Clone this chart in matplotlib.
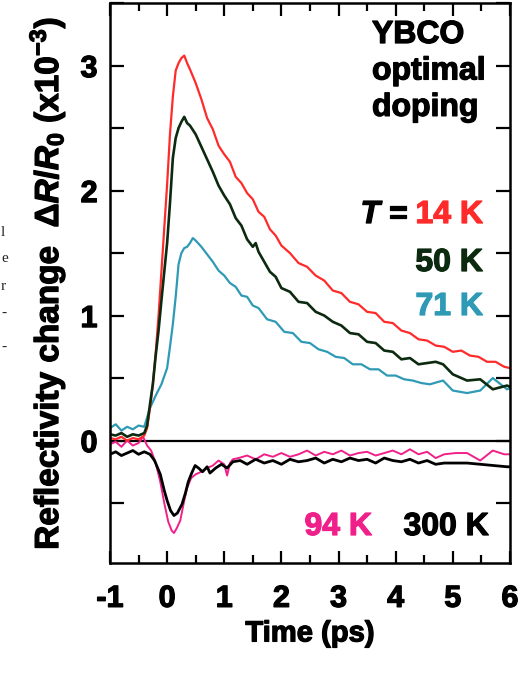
import matplotlib.pyplot as plt
import matplotlib.patheffects as pe
from matplotlib.ticker import MultipleLocator

plt.rcParams['font.family'] = 'Liberation Sans'
plt.rcParams['font.weight'] = 'bold'
plt.rcParams['axes.unicode_minus'] = False
plt.rcParams['mathtext.fontset'] = 'custom'
plt.rcParams['mathtext.rm'] = 'Liberation Sans:bold'
plt.rcParams['mathtext.it'] = 'Liberation Sans:bold:italic'
plt.rcParams['mathtext.bf'] = 'Liberation Sans:bold'

# values (time in ps, dR/R0 in units of 1e-3)
t_14k = [-1.0, -0.9, -0.8, -0.7, -0.6, -0.5, -0.4, -0.35, -0.3, -0.25, -0.2, -0.15,
         -0.1, -0.05, 0.0, 0.05, 0.1, 0.15, 0.2, 0.25, 0.3, 0.35, 0.4, 0.5, 0.6, 0.7,
         0.8, 0.9, 1.0, 1.1, 1.2, 1.3, 1.4, 1.5, 1.6, 1.7, 1.8, 1.9, 2.0, 2.15, 2.3,
         2.45, 2.6, 2.75, 2.9, 3.05, 3.2, 3.35, 3.5, 3.65, 3.8, 3.95, 4.1, 4.25, 4.4,
         4.55, 4.7, 4.85, 5.0, 5.15, 5.3, 5.45, 5.6, 5.75, 5.9, 6.0]
v_14k = [0.02, 0.01, 0.03, 0.00, 0.02, 0.01, 0.04, 0.10, 0.26, 0.45, 0.70, 1.00,
         1.35, 1.70, 2.05, 2.45, 2.75, 2.96, 3.02, 3.06, 3.08, 3.02, 2.97, 2.86, 2.73, 2.58,
         2.49, 2.36, 2.29, 2.23, 2.11, 2.06, 1.98, 1.93, 1.83, 1.79, 1.69, 1.64, 1.56, 1.50, 1.42,
         1.39, 1.32, 1.28, 1.20, 1.18, 1.11, 1.09, 1.03, 1.02, 0.95, 0.94, 0.88, 0.86, 0.81,
         0.80, 0.76, 0.75, 0.71, 0.72, 0.68, 0.67, 0.63, 0.63, 0.59, 0.58]

t_50k = [-1.0, -0.9, -0.8, -0.7, -0.6, -0.5, -0.4, -0.35, -0.3, -0.25, -0.2, -0.15,
         -0.1, -0.05, 0.0, 0.05, 0.1, 0.15, 0.2, 0.25, 0.3, 0.35, 0.4, 0.5, 0.6, 0.7,
         0.8, 0.9, 1.0, 1.1, 1.2, 1.3, 1.4, 1.5, 1.55, 1.6, 1.7, 1.8, 1.9, 2.0, 2.15,
         2.3, 2.45, 2.6, 2.75, 2.9, 3.05, 3.2, 3.35, 3.5, 3.65, 3.8, 3.95, 4.1, 4.25,
         4.4, 4.55, 4.7, 4.83, 5.0, 5.25, 5.48, 5.7, 5.95, 6.0]
v_50k = [0.05, 0.04, 0.06, 0.03, 0.05, 0.04, 0.06, 0.12, 0.29, 0.45, 0.68, 0.88,
         1.12, 1.35, 1.58, 1.90, 2.26, 2.42, 2.50, 2.55, 2.59, 2.54, 2.52, 2.45, 2.35, 2.25,
         2.15, 2.04, 1.96, 1.89, 1.78, 1.72, 1.61, 1.55, 1.58, 1.51, 1.43, 1.35, 1.31, 1.22, 1.19,
         1.11, 1.10, 1.03, 1.00, 0.95, 0.92, 0.86, 0.85, 0.79, 0.78, 0.72, 0.71, 0.65, 0.66,
         0.61, 0.62, 0.63, 0.61, 0.53, 0.48, 0.49, 0.41, 0.44, 0.43]

t_71k = [-1.0, -0.9, -0.8, -0.7, -0.6, -0.5, -0.4, -0.3, -0.2, -0.1, 0.0, 0.05,
         0.1, 0.15, 0.2, 0.25, 0.3, 0.35, 0.4, 0.45, 0.5, 0.6, 0.7, 0.8, 0.9, 1.0,
         1.1, 1.2, 1.3, 1.4, 1.5, 1.6, 1.75, 1.9, 2.05, 2.2, 2.35, 2.5, 2.65, 2.8,
         2.95, 3.1, 3.25, 3.4, 3.55, 3.7, 3.85, 4.0, 4.15, 4.3, 4.45, 4.6, 4.75, 4.83,
         5.0, 5.25, 5.48, 5.7, 5.95, 6.0]
v_71k = [0.10, 0.13, 0.08, 0.11, 0.09, 0.12, 0.11, 0.26, 0.36, 0.45, 0.58, 0.75,
         0.93, 1.15, 1.41, 1.50, 1.54, 1.55, 1.58, 1.62, 1.60, 1.55, 1.49, 1.43, 1.36, 1.32,
         1.26, 1.23, 1.16, 1.15, 1.08, 1.06, 0.97, 0.95, 0.87, 0.86, 0.79, 0.78, 0.73, 0.71,
         0.67, 0.66, 0.61, 0.61, 0.57, 0.57, 0.52, 0.52, 0.49, 0.48, 0.46, 0.45, 0.47, 0.48,
         0.40, 0.38, 0.40, 0.50, 0.41, 0.42]

t_94k = [-1.0, -0.9, -0.8, -0.7, -0.6, -0.5, -0.42, -0.35, -0.28, -0.2, -0.12, -0.05,
         0.02, 0.08, 0.12, 0.17, 0.23, 0.3, 0.35, 0.42, 0.5, 0.6, 0.7, 0.8, 0.9, 1.0,
         1.05, 1.1, 1.15, 1.25, 1.4, 1.55, 1.7, 1.85, 2.0, 2.15, 2.3, 2.45, 2.6, 2.75,
         2.9, 3.05, 3.2, 3.35, 3.5, 3.65, 3.8, 3.95, 4.1, 4.25, 4.4, 4.55, 4.7, 4.85,
         5.05, 5.25, 5.48, 5.7, 5.9, 6.0]
v_94k = [-0.03, -0.01, -0.05, 0.00, -0.04, -0.02, 0.03, -0.04, -0.08, -0.18, -0.33, -0.50,
         -0.65, -0.72, -0.74, -0.70, -0.64, -0.48, -0.38, -0.30, -0.27, -0.25, -0.22, -0.20, -0.16, -0.19,
         -0.28, -0.18, -0.15, -0.14, -0.12, -0.15, -0.11, -0.13, -0.10, -0.13, -0.11, -0.08, -0.12, -0.09,
         -0.11, -0.08, -0.12, -0.10, -0.09, -0.12, -0.10, -0.08, -0.11, -0.07, -0.11, -0.09, -0.14, -0.11,
         -0.10, -0.10, -0.16, -0.08, -0.11, -0.11]

t_300k = [-1.0, -0.9, -0.8, -0.7, -0.6, -0.5, -0.4, -0.3, -0.22, -0.12, -0.05, 0.0,
          0.06, 0.12, 0.18, 0.26, 0.32, 0.37, 0.43, 0.49, 0.55, 0.62, 0.7, 0.75, 0.85,
          0.95, 1.05, 1.15, 1.28, 1.4, 1.55, 1.7, 1.85, 2.0, 2.15, 2.3, 2.45, 2.6, 2.75,
          2.9, 3.05, 3.2, 3.35, 3.5, 3.65, 3.8, 3.95, 4.1, 4.25, 4.4, 4.55, 4.7, 4.85,
          5.25, 5.95, 6.0]
v_300k = [-0.11, -0.09, -0.12, -0.10, -0.08, -0.11, -0.09, -0.11, -0.16, -0.27, -0.40, -0.48,
          -0.56, -0.60, -0.58, -0.51, -0.42, -0.33, -0.26, -0.20, -0.22, -0.25, -0.21, -0.26, -0.22,
          -0.19, -0.22, -0.17, -0.16, -0.19, -0.15, -0.18, -0.16, -0.19, -0.15, -0.17, -0.16, -0.14, -0.18,
          -0.15, -0.17, -0.14, -0.16, -0.15, -0.18, -0.14, -0.16, -0.17, -0.15, -0.18, -0.16, -0.19, -0.18,
          -0.18, -0.21, -0.21]

c_14k = '#ff2a2a'
c_50k = '#0c2a10'
c_71k = '#2f9ab6'
c_94k = '#f0208a'
c_300k = '#000000'


def heavy(color):
    return [pe.withStroke(linewidth=0.9, foreground=color)]


fig = plt.figure(figsize=(5.23, 6.73), dpi=100)
ax = fig.add_axes([0.2103, 0.1634, 0.7647, 0.832])

ax.axhline(0, color='black', lw=1.6, zorder=1)
ax.plot(t_94k, v_94k, color=c_94k, lw=1.4)
ax.plot(t_300k, v_300k, color=c_300k, lw=2.0)
ax.plot(t_71k, v_71k, color=c_71k, lw=1.6)
ax.plot(t_14k, v_14k, color=c_14k, lw=1.6)
ax.plot(t_50k, v_50k, color=c_50k, lw=1.9)

ax.set_xlim(-1, 6)
ax.set_ylim(-0.98, 3.5)
ax.xaxis.set_major_locator(MultipleLocator(1))
ax.xaxis.set_minor_locator(MultipleLocator(0.5))
ax.yaxis.set_major_locator(MultipleLocator(1))
ax.yaxis.set_minor_locator(MultipleLocator(0.5))
ax.tick_params(which='both', direction='in', width=1.6, top=True, right=True)
ax.tick_params(axis='x', which='major', length=9, pad=15, labelsize=22)
ax.tick_params(axis='x', which='minor', length=6)
ax.tick_params(axis='y', which='both', length=10, pad=9, labelsize=22)
ax.tick_params(which='both', labeltop=False, labelright=False)
for sp in ax.spines.values():
    sp.set_linewidth(1.8)
for lb in ax.get_xticklabels() + ax.get_yticklabels():
    lb.set_path_effects(heavy('black'))

ax.set_xlabel('Time (ps)', fontsize=21, fontweight='bold', labelpad=4,
              path_effects=heavy('black'))
ax.set_ylabel(r'Reflectivity change  $\Delta R/R_0$ (x10$^{-3}$)',
              fontsize=24, fontweight='bold', labelpad=9,
              path_effects=heavy('black'))

H = 673
fig.text(372 / 523, 1 - 20 / H, 'YBCO\noptimal\ndoping', fontsize=23,
         fontweight='bold', ha='left', va='top', linespacing=1.28,
         path_effects=heavy('black'))


def lab(x, y, s, color, ha='right', style='normal'):
    fig.text(x / 523, 1 - y / H, s, color=color, fontsize=23, fontweight='bold',
             ha=ha, va='center', style=style, path_effects=heavy(color))


lab(483, 215, '14 K', c_14k)
lab(407, 215, '=', 'black')
lab(380, 215, 'T', 'black', style='italic')
lab(483, 263, '50 K', c_50k)
lab(483, 307, '71 K', c_71k)
lab(372, 527, '94 K', c_94k)
lab(489, 527, '300 K', c_300k)

# fragments of neighbouring text at the page edge
for yy, ch in [(232, 'l'), (259, 'e'), (287, 'r'), (313, '-'), (347, '-')]:
    fig.text(0.002, 1 - yy / H, ch, family='Liberation Serif', fontweight='normal',
             fontsize=11, ha='left', va='center', color='#222222')

fig.savefig('out.png', dpi=100)
